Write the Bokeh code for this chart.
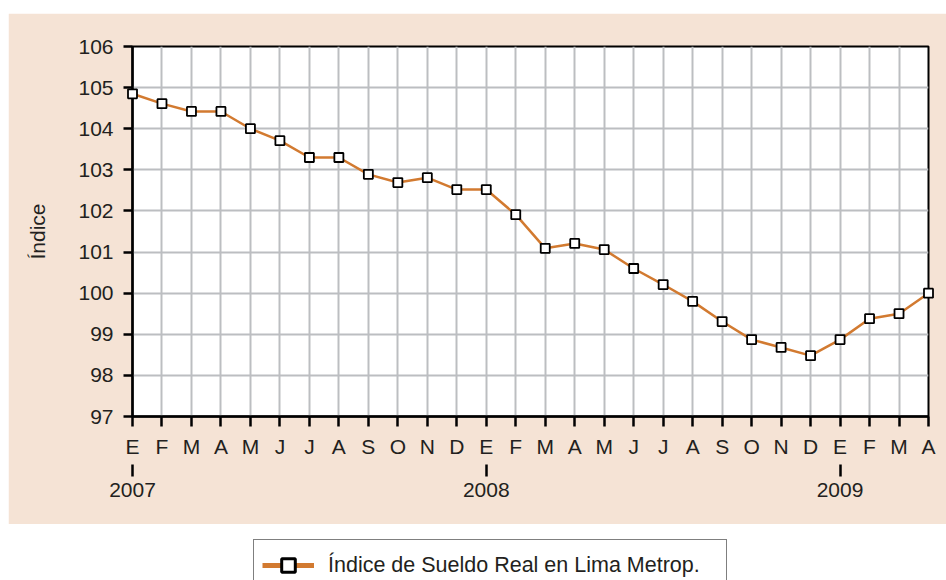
from bokeh.plotting import figure
from bokeh.models import FixedTicker, LinearAxis, Range1d, Legend, LegendItem, Spacer
from bokeh.layouts import column, row
from bokeh.embed import file_html
from bokeh.resources import INLINE

# ---- data ----
month_labels = ["E", "F", "M", "A", "M", "J", "J", "A", "S", "O", "N", "D",
                "E", "F", "M", "A", "M", "J", "J", "A", "S", "O", "N", "D",
                "E", "F", "M", "A"]
year_labels = ["2007", "2008", "2009"]
year_start_index = [0, 12, 24]
indice = [104.85, 104.61, 104.42, 104.42, 104.00, 103.71, 103.30, 103.30,
          102.89, 102.69, 102.81, 102.52,
          102.52, 101.91, 101.09, 101.21, 101.06, 100.60, 100.21, 99.80,
          99.31, 98.87, 98.68, 98.48,
          98.87, 99.38, 99.50, 100.00]
y_ticks = [97, 98, 99, 100, 101, 102, 103, 104, 105, 106]
series_name = "Índice de Sueldo Real en Lima Metrop."
y_title = "Índice"

# ---- styles ----
BEIGE = "#F5E3D5"
ORANGE = "#D27A30"
GRID = "#BCBEC1"
TEXT = "#231F20"
FONT = "Liberation Sans"

x = list(range(len(indice)))

p = figure(width=938, height=511,
           x_range=Range1d(0, len(indice) - 1), y_range=Range1d(97, 106),
           output_backend="svg", toolbar_location=None,
           min_border_left=124, min_border_right=18,
           min_border_top=33, min_border_bottom=108,
           background_fill_color="white", border_fill_color=BEIGE,
           outline_line_color="black", outline_line_width=2)

# x axis (months)
xa = p.xaxis[0]
xa.ticker = FixedTicker(ticks=x)
xa.major_label_overrides = {i: m for i, m in enumerate(month_labels)}
xa.minor_tick_line_color = None
xa.major_tick_in = 0
xa.major_tick_out = 10
xa.major_tick_line_width = 2.5
xa.axis_line_width = 2.5
xa.axis_line_color = "black"
xa.major_tick_line_color = "black"
xa.major_label_standoff = 8
xa.major_label_text_font = FONT
xa.major_label_text_font_size = "21px"
xa.major_label_text_color = TEXT

# year axis
ya2 = LinearAxis(ticker=FixedTicker(ticks=year_start_index),
                 major_label_overrides={i: y for i, y in zip(year_start_index, year_labels)})
ya2.axis_line_color = None
ya2.minor_tick_line_color = None
ya2.major_tick_in = -4
ya2.major_tick_out = 16
ya2.major_tick_line_width = 2.5
ya2.major_tick_line_color = "black"
ya2.major_label_standoff = 6
ya2.major_label_text_font = FONT
ya2.major_label_text_font_size = "21px"
ya2.major_label_text_color = TEXT
p.add_layout(ya2, "below")

# y axis
yax = p.yaxis[0]
yax.ticker = FixedTicker(ticks=y_ticks)
yax.minor_tick_line_color = None
yax.major_tick_in = 0
yax.major_tick_out = 9
yax.major_tick_line_width = 2.5
yax.axis_line_width = 2.5
yax.major_label_standoff = 10
yax.major_label_text_font = FONT
yax.major_label_text_font_size = "21px"
yax.major_label_text_color = TEXT
yax.axis_label = y_title
yax.axis_label_text_font = FONT
yax.axis_label_text_font_size = "21px"
yax.axis_label_text_font_style = "normal"
yax.axis_label_text_color = TEXT
yax.axis_label_standoff = 26

p.xgrid.grid_line_color = GRID
p.xgrid.grid_line_width = 2
p.ygrid.grid_line_color = GRID
p.ygrid.grid_line_width = 2

p.line(x, indice, line_color=ORANGE, line_width=2.5, level="overlay")
p.scatter(x, indice, marker="square", size=9, fill_color="white",
          line_color="black", line_width=1.8, level="overlay")

# ---- legend strip ----
lf = figure(width=938, height=56, x_range=Range1d(0, 1), y_range=Range1d(0, 1),
            output_backend="svg", toolbar_location=None,
            x_axis_type=None, y_axis_type=None,
            min_border=0, min_border_left=0, min_border_right=0,
            min_border_top=0, min_border_bottom=0,
            outline_line_color=None, border_fill_color="white",
            background_fill_color="white")
lf.xgrid.visible = False
lf.ygrid.visible = False
r1 = lf.line([float("nan")], [float("nan")], line_color=ORANGE, line_width=5)
r2 = lf.scatter([float("nan")], [float("nan")], marker="square", size=15,
                fill_color="white", line_color="black", line_width=3)
legend = Legend(items=[LegendItem(label=series_name, renderers=[r1, r2])],
                location=(121, -11), orientation="horizontal",
                border_line_color="black", border_line_width=1.5,
                background_fill_color="white", background_fill_alpha=1,
                label_text_font=FONT, label_text_font_size="21.5px",
                label_text_color=TEXT, label_width=390,
                glyph_width=52, glyph_height=34, label_standoff=14,
                padding=8, margin=0)
lf.add_layout(legend)

layout = row(Spacer(width=8, height=580),
             column(Spacer(width=938, height=13), p, lf))

open("out.html", "w").write(file_html(layout, INLINE))
